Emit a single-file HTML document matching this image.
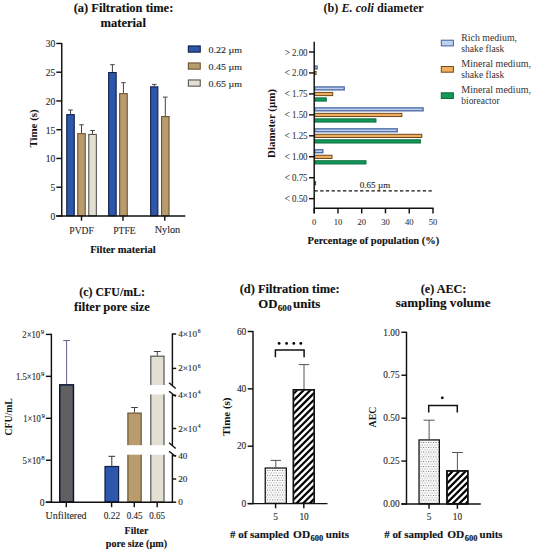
<!DOCTYPE html>
<html><head><meta charset="utf-8"><title>Figure</title>
<style>
html,body{margin:0;padding:0;background:#fff;}
svg{display:block;font-family:"Liberation Serif", serif;}
</style></head>
<body>
<svg width="535" height="550" viewBox="0 0 535 550">
<rect x="0" y="0" width="535" height="550" fill="#fff"/>
<defs>
<pattern id="dotsD" x="267.0" y="470.0" width="2.52" height="4.9" patternUnits="userSpaceOnUse"><rect x="0" y="0" width="1.0" height="1.0" fill="#6e6e6e"/><rect x="1.26" y="2.45" width="1.0" height="1.0" fill="#888"/></pattern>
<pattern id="dotsE" x="420.7" y="442.0" width="2.47" height="4.8" patternUnits="userSpaceOnUse"><rect x="0" y="0" width="1.0" height="1.0" fill="#6e6e6e"/><rect x="1.23" y="2.4" width="1.0" height="1.0" fill="#888"/></pattern>
<clipPath id="clipD"><rect x="294.1" y="390.2" width="19.7" height="113.6"/></clipPath>
<clipPath id="clipE"><rect x="447.3" y="471.3" width="20.0" height="32.5"/></clipPath>
</defs>
<text x="73.70" y="11.60" font-size="12" textLength="99.60" lengthAdjust="spacingAndGlyphs" fill="#111" stroke="#111" stroke-width="0.12" font-weight="bold">(a) Filtration time:</text>
<text x="100.40" y="27.40" font-size="12" textLength="45.50" lengthAdjust="spacingAndGlyphs" fill="#111" stroke="#111" stroke-width="0.12" font-weight="bold">material</text>
<text x="50.60" y="219.85" font-size="9.8" textLength="4.80" lengthAdjust="spacingAndGlyphs" fill="#2a2a2a" stroke="#2a2a2a" stroke-width="0.12">0</text>
<text x="50.60" y="191.10" font-size="9.8" textLength="4.80" lengthAdjust="spacingAndGlyphs" fill="#2a2a2a" stroke="#2a2a2a" stroke-width="0.12">5</text>
<text x="45.80" y="162.35" font-size="9.8" textLength="9.60" lengthAdjust="spacingAndGlyphs" fill="#2a2a2a" stroke="#2a2a2a" stroke-width="0.12">10</text>
<text x="45.80" y="133.60" font-size="9.8" textLength="9.60" lengthAdjust="spacingAndGlyphs" fill="#2a2a2a" stroke="#2a2a2a" stroke-width="0.12">15</text>
<text x="45.80" y="104.85" font-size="9.8" textLength="9.60" lengthAdjust="spacingAndGlyphs" fill="#2a2a2a" stroke="#2a2a2a" stroke-width="0.12">20</text>
<text x="45.80" y="76.10" font-size="9.8" textLength="9.60" lengthAdjust="spacingAndGlyphs" fill="#2a2a2a" stroke="#2a2a2a" stroke-width="0.12">25</text>
<text x="45.80" y="47.35" font-size="9.8" textLength="9.60" lengthAdjust="spacingAndGlyphs" fill="#2a2a2a" stroke="#2a2a2a" stroke-width="0.12">30</text>
<text x="69.30" y="234.00" font-size="9.6" textLength="24.50" lengthAdjust="spacingAndGlyphs" fill="#2a2a2a" stroke="#2a2a2a" stroke-width="0.12">PVDF</text>
<text x="113.30" y="233.80" font-size="9.6" textLength="22.20" lengthAdjust="spacingAndGlyphs" fill="#2a2a2a" stroke="#2a2a2a" stroke-width="0.12">PTFE</text>
<text x="154.70" y="232.90" font-size="9.6" textLength="25.50" lengthAdjust="spacingAndGlyphs" fill="#2a2a2a" stroke="#2a2a2a" stroke-width="0.12">Nylon</text>
<text x="90.20" y="252.60" font-size="11" textLength="65.50" lengthAdjust="spacingAndGlyphs" fill="#111" stroke="#111" stroke-width="0.12" font-weight="bold">Filter material</text>
<text x="37.40" y="147.60" font-size="11.4" font-weight="bold" fill="#111" textLength="38.30" lengthAdjust="spacingAndGlyphs" transform="rotate(-90 37.40 147.60)" dy="0">Time (s)</text>
<line x1="70.50" y1="114.10" x2="70.50" y2="110.00" stroke="#444" stroke-width="1.0"/>
<line x1="68.20" y1="110.00" x2="72.80" y2="110.00" stroke="#444" stroke-width="1.0"/>
<rect x="66.75" y="114.65" width="7.50" height="101.10" fill="#2c57aa" stroke="#101e48" stroke-width="1.1"/>
<line x1="81.50" y1="133.10" x2="81.50" y2="124.80" stroke="#444" stroke-width="1.0"/>
<line x1="79.20" y1="124.80" x2="83.80" y2="124.80" stroke="#444" stroke-width="1.0"/>
<rect x="77.75" y="133.65" width="7.50" height="82.10" fill="#b99c6d" stroke="#6c5431" stroke-width="1.1"/>
<line x1="92.55" y1="133.90" x2="92.55" y2="130.50" stroke="#444" stroke-width="1.0"/>
<line x1="90.25" y1="130.50" x2="94.85" y2="130.50" stroke="#444" stroke-width="1.0"/>
<rect x="88.75" y="134.45" width="7.60" height="81.30" fill="#e3dfd3" stroke="#555555" stroke-width="1.1"/>
<line x1="112.40" y1="72.00" x2="112.40" y2="64.70" stroke="#444" stroke-width="1.0"/>
<line x1="110.10" y1="64.70" x2="114.70" y2="64.70" stroke="#444" stroke-width="1.0"/>
<rect x="108.65" y="72.55" width="7.50" height="143.20" fill="#2c57aa" stroke="#101e48" stroke-width="1.1"/>
<line x1="123.45" y1="93.10" x2="123.45" y2="82.70" stroke="#444" stroke-width="1.0"/>
<line x1="121.15" y1="82.70" x2="125.75" y2="82.70" stroke="#444" stroke-width="1.0"/>
<rect x="119.65" y="93.65" width="7.60" height="122.10" fill="#b99c6d" stroke="#6c5431" stroke-width="1.1"/>
<line x1="154.25" y1="86.30" x2="154.25" y2="84.40" stroke="#444" stroke-width="1.0"/>
<line x1="151.95" y1="84.40" x2="156.55" y2="84.40" stroke="#444" stroke-width="1.0"/>
<rect x="150.65" y="86.85" width="7.20" height="128.90" fill="#2c57aa" stroke="#101e48" stroke-width="1.1"/>
<line x1="165.30" y1="116.00" x2="165.30" y2="97.10" stroke="#444" stroke-width="1.0"/>
<line x1="163.00" y1="97.10" x2="167.60" y2="97.10" stroke="#444" stroke-width="1.0"/>
<rect x="161.55" y="116.55" width="7.50" height="99.20" fill="#b99c6d" stroke="#6c5431" stroke-width="1.1"/>
<rect x="188.35" y="45.95" width="11.90" height="6.20" fill="#2c57aa" stroke="#101e48" stroke-width="1.1"/>
<text x="208.60" y="52.50" font-size="9.2" textLength="33.50" lengthAdjust="spacingAndGlyphs" fill="#2a2a2a" stroke="#2a2a2a" stroke-width="0.12">0.22 µm</text>
<rect x="188.35" y="62.95" width="11.90" height="6.20" fill="#b99c6d" stroke="#6c5431" stroke-width="1.1"/>
<text x="208.60" y="69.50" font-size="9.2" textLength="33.50" lengthAdjust="spacingAndGlyphs" fill="#2a2a2a" stroke="#2a2a2a" stroke-width="0.12">0.45 µm</text>
<rect x="188.35" y="79.95" width="11.90" height="6.20" fill="#e3dfd3" stroke="#555555" stroke-width="1.1"/>
<text x="208.60" y="86.50" font-size="9.2" textLength="33.50" lengthAdjust="spacingAndGlyphs" fill="#2a2a2a" stroke="#2a2a2a" stroke-width="0.12">0.65 µm</text>
<text x="323.5" y="11.7" font-size="12" font-weight="bold" fill="#151515" textLength="100.3" lengthAdjust="spacingAndGlyphs">(b) <tspan font-style="italic">E. coli</tspan> diameter</text>
<text x="284.70" y="55.50" font-size="10" textLength="22.90" lengthAdjust="spacingAndGlyphs" fill="#333" stroke="#333" stroke-width="0.08">&gt; 2.00</text>
<text x="284.70" y="76.45" font-size="10" textLength="22.90" lengthAdjust="spacingAndGlyphs" fill="#333" stroke="#333" stroke-width="0.08">&lt; 2.00</text>
<text x="284.70" y="97.40" font-size="10" textLength="22.90" lengthAdjust="spacingAndGlyphs" fill="#333" stroke="#333" stroke-width="0.08">&lt; 1.75</text>
<text x="284.70" y="118.35" font-size="10" textLength="22.90" lengthAdjust="spacingAndGlyphs" fill="#333" stroke="#333" stroke-width="0.08">&lt; 1.50</text>
<text x="284.70" y="139.30" font-size="10" textLength="22.90" lengthAdjust="spacingAndGlyphs" fill="#333" stroke="#333" stroke-width="0.08">&lt; 1.25</text>
<text x="284.70" y="160.25" font-size="10" textLength="22.90" lengthAdjust="spacingAndGlyphs" fill="#333" stroke="#333" stroke-width="0.08">&lt; 1.00</text>
<text x="284.70" y="181.20" font-size="10" textLength="22.90" lengthAdjust="spacingAndGlyphs" fill="#333" stroke="#333" stroke-width="0.08">&lt; 0.75</text>
<text x="284.70" y="202.15" font-size="10" textLength="22.90" lengthAdjust="spacingAndGlyphs" fill="#333" stroke="#333" stroke-width="0.08">&lt; 0.50</text>
<text x="312.05" y="224.90" font-size="9" textLength="4.30" lengthAdjust="spacingAndGlyphs" fill="#333" stroke="#333" stroke-width="0.08">0</text>
<text x="333.66" y="224.90" font-size="9" textLength="8.60" lengthAdjust="spacingAndGlyphs" fill="#333" stroke="#333" stroke-width="0.08">10</text>
<text x="357.42" y="224.90" font-size="9" textLength="8.60" lengthAdjust="spacingAndGlyphs" fill="#333" stroke="#333" stroke-width="0.08">20</text>
<text x="381.18" y="224.90" font-size="9" textLength="8.60" lengthAdjust="spacingAndGlyphs" fill="#333" stroke="#333" stroke-width="0.08">30</text>
<text x="404.94" y="224.90" font-size="9" textLength="8.60" lengthAdjust="spacingAndGlyphs" fill="#333" stroke="#333" stroke-width="0.08">40</text>
<text x="428.70" y="224.90" font-size="9" textLength="8.60" lengthAdjust="spacingAndGlyphs" fill="#333" stroke="#333" stroke-width="0.08">50</text>
<line x1="314.5" y1="190.8" x2="432.5" y2="190.8" stroke="#111" stroke-width="1.3" stroke-dasharray="3.3 2.4"/>
<text x="359.80" y="188.10" font-size="8.2" textLength="30.40" lengthAdjust="spacingAndGlyphs" fill="#2a2a2a" stroke="#2a2a2a" stroke-width="0.12">0.65 µm</text>
<text x="307.60" y="244.30" font-size="10.4" textLength="131.70" lengthAdjust="spacingAndGlyphs" fill="#111" stroke="#111" stroke-width="0.12" font-weight="bold">Percentage of population (%)</text>
<text x="275.30" y="158.00" font-size="10.8" font-weight="bold" fill="#111" textLength="69.00" lengthAdjust="spacingAndGlyphs" transform="rotate(-90 275.30 158.00)" dy="0">Diameter (µm)</text>
<rect x="314.82" y="65.98" width="2.31" height="2.95" fill="#bcd0f0" stroke="#42629f" stroke-width="1.25"/>
<rect x="314.70" y="71.45" width="1.38" height="3.20" fill="#f3ad5e" stroke="#6b4a1f" stroke-width="1.0"/>
<rect x="314.70" y="76.95" width="-0.29" height="3.20" fill="#11985a" stroke="#0b6b3c" stroke-width="1.0"/>
<rect x="314.82" y="86.93" width="29.40" height="2.95" fill="#bcd0f0" stroke="#42629f" stroke-width="1.25"/>
<rect x="314.70" y="92.40" width="18.01" height="3.20" fill="#f3ad5e" stroke="#6b4a1f" stroke-width="1.0"/>
<rect x="314.70" y="97.90" width="11.59" height="3.20" fill="#11985a" stroke="#0b6b3c" stroke-width="1.0"/>
<rect x="314.82" y="107.88" width="108.28" height="2.95" fill="#bcd0f0" stroke="#42629f" stroke-width="1.25"/>
<rect x="314.70" y="113.35" width="87.15" height="3.20" fill="#f3ad5e" stroke="#6b4a1f" stroke-width="1.0"/>
<rect x="314.70" y="118.85" width="61.25" height="3.20" fill="#11985a" stroke="#0b6b3c" stroke-width="1.0"/>
<rect x="314.82" y="128.83" width="82.39" height="2.95" fill="#bcd0f0" stroke="#42629f" stroke-width="1.25"/>
<rect x="314.70" y="134.30" width="107.11" height="3.20" fill="#f3ad5e" stroke="#6b4a1f" stroke-width="1.0"/>
<rect x="314.70" y="139.80" width="105.68" height="3.20" fill="#11985a" stroke="#0b6b3c" stroke-width="1.0"/>
<rect x="314.82" y="149.78" width="8.02" height="2.95" fill="#bcd0f0" stroke="#42629f" stroke-width="1.25"/>
<rect x="314.70" y="155.25" width="17.30" height="3.20" fill="#f3ad5e" stroke="#6b4a1f" stroke-width="1.0"/>
<rect x="314.70" y="160.75" width="51.27" height="3.20" fill="#11985a" stroke="#0b6b3c" stroke-width="1.0"/>
<rect x="314.70" y="181.70" width="0.90" height="3.20" fill="#11985a" stroke="#0b6b3c" stroke-width="1.0"/>
<rect x="441.30" y="40.20" width="12.10" height="5.70" fill="#bcd0f0" stroke="#42629f" stroke-width="1.0"/>
<text x="461.30" y="41.20" font-size="9.3" textLength="55.70" lengthAdjust="spacingAndGlyphs" fill="#333" stroke="#333" stroke-width="0.0">Rich medium,</text>
<text x="461.30" y="51.70" font-size="9.3" textLength="43.00" lengthAdjust="spacingAndGlyphs" fill="#333" stroke="#333" stroke-width="0.0">shake flask</text>
<rect x="441.30" y="66.50" width="12.10" height="5.70" fill="#f3ad5e" stroke="#6b4a1f" stroke-width="1.0"/>
<text x="461.30" y="66.90" font-size="9.3" textLength="69.70" lengthAdjust="spacingAndGlyphs" fill="#333" stroke="#333" stroke-width="0.0">Mineral medium,</text>
<text x="461.30" y="77.80" font-size="9.3" textLength="43.00" lengthAdjust="spacingAndGlyphs" fill="#333" stroke="#333" stroke-width="0.0">shake flask</text>
<rect x="441.30" y="92.80" width="12.10" height="5.70" fill="#11985a" stroke="#0b6b3c" stroke-width="1.0"/>
<text x="461.30" y="92.60" font-size="9.3" textLength="69.70" lengthAdjust="spacingAndGlyphs" fill="#333" stroke="#333" stroke-width="0.0">Mineral medium,</text>
<text x="461.30" y="103.90" font-size="9.3" textLength="38.30" lengthAdjust="spacingAndGlyphs" fill="#333" stroke="#333" stroke-width="0.0">bioreactor</text>
<text x="79.30" y="295.90" font-size="12" textLength="65.70" lengthAdjust="spacingAndGlyphs" fill="#111" stroke="#111" stroke-width="0.12" font-weight="bold">(c) CFU/mL:</text>
<text x="74.10" y="311.30" font-size="12" textLength="75.80" lengthAdjust="spacingAndGlyphs" fill="#111" stroke="#111" stroke-width="0.12" font-weight="bold">filter pore size</text>
<text x="39.80" y="505.50" font-size="9.5" textLength="4.80" lengthAdjust="spacingAndGlyphs" fill="#2a2a2a" stroke="#2a2a2a" stroke-width="0.12">0</text>
<text x="22.50" y="463.55" font-size="9.5" textLength="18.20" lengthAdjust="spacingAndGlyphs" fill="#2a2a2a" stroke="#2a2a2a" stroke-width="0.12">5×10</text>
<text x="41.30" y="459.65" font-size="5.8" textLength="3.40" lengthAdjust="spacingAndGlyphs" fill="#2a2a2a" stroke="#2a2a2a" stroke-width="0.12">8</text>
<text x="23.20" y="421.60" font-size="9.5" textLength="17.70" lengthAdjust="spacingAndGlyphs" fill="#2a2a2a" stroke="#2a2a2a" stroke-width="0.12">1×10</text>
<text x="41.50" y="417.70" font-size="5.8" textLength="3.40" lengthAdjust="spacingAndGlyphs" fill="#2a2a2a" stroke="#2a2a2a" stroke-width="0.12">9</text>
<text x="15.90" y="379.65" font-size="9.5" textLength="24.60" lengthAdjust="spacingAndGlyphs" fill="#2a2a2a" stroke="#2a2a2a" stroke-width="0.12">1.5×10</text>
<text x="41.10" y="375.75" font-size="5.8" textLength="3.40" lengthAdjust="spacingAndGlyphs" fill="#2a2a2a" stroke="#2a2a2a" stroke-width="0.12">9</text>
<text x="22.30" y="337.70" font-size="9.5" textLength="17.90" lengthAdjust="spacingAndGlyphs" fill="#2a2a2a" stroke="#2a2a2a" stroke-width="0.12">2×10</text>
<text x="40.80" y="333.80" font-size="5.8" textLength="3.40" lengthAdjust="spacingAndGlyphs" fill="#2a2a2a" stroke="#2a2a2a" stroke-width="0.12">9</text>
<text x="178.20" y="337.00" font-size="8.6" textLength="18.80" lengthAdjust="spacingAndGlyphs" fill="#2a2a2a" stroke="#2a2a2a" stroke-width="0.12">4×10</text>
<text x="197.80" y="333.10" font-size="5.6" textLength="2.80" lengthAdjust="spacingAndGlyphs" fill="#2a2a2a" stroke="#2a2a2a" stroke-width="0.12">6</text>
<text x="178.20" y="371.40" font-size="8.6" textLength="18.80" lengthAdjust="spacingAndGlyphs" fill="#2a2a2a" stroke="#2a2a2a" stroke-width="0.12">2×10</text>
<text x="197.80" y="367.50" font-size="5.6" textLength="2.80" lengthAdjust="spacingAndGlyphs" fill="#2a2a2a" stroke="#2a2a2a" stroke-width="0.12">6</text>
<text x="178.20" y="398.30" font-size="8.6" textLength="18.80" lengthAdjust="spacingAndGlyphs" fill="#2a2a2a" stroke="#2a2a2a" stroke-width="0.12">4×10</text>
<text x="197.80" y="394.40" font-size="5.6" textLength="2.80" lengthAdjust="spacingAndGlyphs" fill="#2a2a2a" stroke="#2a2a2a" stroke-width="0.12">4</text>
<text x="178.20" y="431.50" font-size="8.6" textLength="18.80" lengthAdjust="spacingAndGlyphs" fill="#2a2a2a" stroke="#2a2a2a" stroke-width="0.12">2×10</text>
<text x="197.80" y="427.60" font-size="5.6" textLength="2.80" lengthAdjust="spacingAndGlyphs" fill="#2a2a2a" stroke="#2a2a2a" stroke-width="0.12">4</text>
<text x="178.20" y="458.70" font-size="9" textLength="9.20" lengthAdjust="spacingAndGlyphs" fill="#2a2a2a" stroke="#2a2a2a" stroke-width="0.12">40</text>
<text x="178.20" y="482.00" font-size="9" textLength="9.20" lengthAdjust="spacingAndGlyphs" fill="#2a2a2a" stroke="#2a2a2a" stroke-width="0.12">20</text>
<text x="178.20" y="505.20" font-size="9" textLength="4.60" lengthAdjust="spacingAndGlyphs" fill="#2a2a2a" stroke="#2a2a2a" stroke-width="0.12">0</text>
<line x1="66.60" y1="384.50" x2="66.60" y2="340.50" stroke="#5d6290" stroke-width="1.0"/>
<line x1="63.25" y1="340.50" x2="69.95" y2="340.50" stroke="#5d6290" stroke-width="1.0"/>
<rect x="59.75" y="384.85" width="13.70" height="117.00" fill="#606060" stroke="#0c1838" stroke-width="1.5"/>
<line x1="111.80" y1="465.90" x2="111.80" y2="456.30" stroke="#333" stroke-width="1.0"/>
<line x1="108.45" y1="456.30" x2="115.15" y2="456.30" stroke="#333" stroke-width="1.0"/>
<rect x="105.00" y="466.50" width="13.60" height="35.50" fill="#2c57aa" stroke="#101e48" stroke-width="1.2"/>
<line x1="134.50" y1="412.50" x2="134.50" y2="407.50" stroke="#444" stroke-width="1.0"/>
<line x1="131.15" y1="407.50" x2="137.85" y2="407.50" stroke="#444" stroke-width="1.0"/>
<rect x="127.90" y="413.10" width="13.30" height="88.90" fill="#b99c6d" stroke="#6c5431" stroke-width="1.2"/>
<line x1="157.30" y1="355.60" x2="157.30" y2="351.50" stroke="#444" stroke-width="1.0"/>
<line x1="153.95" y1="351.50" x2="160.65" y2="351.50" stroke="#444" stroke-width="1.0"/>
<rect x="150.80" y="356.20" width="13.20" height="145.80" fill="#e3dfd3" stroke="#555555" stroke-width="1.2"/>
<rect x="125.00" y="445.20" width="20.00" height="9.50" fill="#fff"/>
<rect x="148.00" y="445.20" width="20.00" height="9.50" fill="#fff"/>
<rect x="148.00" y="385.00" width="20.00" height="9.40" fill="#fff"/>
<text x="45.60" y="518.90" font-size="9.5" textLength="41.00" lengthAdjust="spacingAndGlyphs" fill="#2a2a2a" stroke="#2a2a2a" stroke-width="0.12">Unfiltered</text>
<text x="103.70" y="518.80" font-size="9.5" textLength="16.40" lengthAdjust="spacingAndGlyphs" fill="#2a2a2a" stroke="#2a2a2a" stroke-width="0.12">0.22</text>
<text x="126.70" y="518.80" font-size="9.5" textLength="15.90" lengthAdjust="spacingAndGlyphs" fill="#2a2a2a" stroke="#2a2a2a" stroke-width="0.12">0.45</text>
<text x="149.20" y="518.80" font-size="9.5" textLength="15.80" lengthAdjust="spacingAndGlyphs" fill="#2a2a2a" stroke="#2a2a2a" stroke-width="0.12">0.65</text>
<text x="124.60" y="534.20" font-size="11" textLength="23.70" lengthAdjust="spacingAndGlyphs" fill="#111" stroke="#111" stroke-width="0.12" font-weight="bold">Filter</text>
<text x="105.80" y="546.60" font-size="11" textLength="61.30" lengthAdjust="spacingAndGlyphs" fill="#111" stroke="#111" stroke-width="0.12" font-weight="bold">pore size (µm)</text>
<text x="11.80" y="435.50" font-size="10.6" font-weight="bold" fill="#111" textLength="37.30" lengthAdjust="spacingAndGlyphs" transform="rotate(-90 11.80 435.50)" dy="0">CFU/mL</text>
<text x="239.70" y="292.90" font-size="12" textLength="100.00" lengthAdjust="spacingAndGlyphs" fill="#111" stroke="#111" stroke-width="0.12" font-weight="bold">(d) Filtration time:</text>
<text x="258.30" y="308.20" font-size="12" textLength="19.20" lengthAdjust="spacingAndGlyphs" fill="#111" stroke="#111" stroke-width="0.12" font-weight="bold">OD</text>
<text x="277.80" y="310.90" font-size="8" textLength="13.70" lengthAdjust="spacingAndGlyphs" fill="#111" stroke="#111" stroke-width="0.12" font-weight="bold">600</text>
<text x="293.00" y="308.20" font-size="12" textLength="27.40" lengthAdjust="spacingAndGlyphs" fill="#111" stroke="#111" stroke-width="0.12" font-weight="bold">units</text>
<text x="241.60" y="506.80" font-size="9.5" textLength="4.70" lengthAdjust="spacingAndGlyphs" fill="#2a2a2a" stroke="#2a2a2a" stroke-width="0.12">0</text>
<text x="236.90" y="449.43" font-size="9.5" textLength="9.40" lengthAdjust="spacingAndGlyphs" fill="#2a2a2a" stroke="#2a2a2a" stroke-width="0.12">20</text>
<text x="236.90" y="392.06" font-size="9.5" textLength="9.40" lengthAdjust="spacingAndGlyphs" fill="#2a2a2a" stroke="#2a2a2a" stroke-width="0.12">40</text>
<text x="236.90" y="334.69" font-size="9.5" textLength="9.40" lengthAdjust="spacingAndGlyphs" fill="#2a2a2a" stroke="#2a2a2a" stroke-width="0.12">60</text>
<line x1="275.80" y1="467.40" x2="275.80" y2="460.40" stroke="#555" stroke-width="1.0"/>
<line x1="270.60" y1="460.40" x2="281.00" y2="460.40" stroke="#555" stroke-width="1.0"/>
<rect x="265.25" y="468.05" width="21.10" height="35.30" fill="#fff" stroke="#111" stroke-width="1.3"/>
<rect x="265.60" y="468.40" width="20.40" height="34.80" fill="url(#dotsD)"/>
<line x1="304.00" y1="389.10" x2="304.00" y2="364.60" stroke="#555" stroke-width="1.0"/>
<line x1="298.65" y1="364.60" x2="309.35" y2="364.60" stroke="#555" stroke-width="1.0"/>
<rect x="293.45" y="389.75" width="20.80" height="113.60" fill="#fff" stroke="#111" stroke-width="1.3"/>
<rect x="293.45" y="389.75" width="20.80" height="113.60" fill="#fff" stroke="#111" stroke-width="1.3"/>
<g clip-path="url(#clipD)" stroke="#000" stroke-width="2.2">
<line x1="288.80" y1="372.02" x2="320.00" y2="340.82" stroke="#000" stroke-width="2.2"/>
<line x1="288.80" y1="378.64" x2="320.00" y2="347.44" stroke="#000" stroke-width="2.2"/>
<line x1="288.80" y1="385.26" x2="320.00" y2="354.06" stroke="#000" stroke-width="2.2"/>
<line x1="288.80" y1="391.88" x2="320.00" y2="360.68" stroke="#000" stroke-width="2.2"/>
<line x1="288.80" y1="398.50" x2="320.00" y2="367.30" stroke="#000" stroke-width="2.2"/>
<line x1="288.80" y1="405.12" x2="320.00" y2="373.92" stroke="#000" stroke-width="2.2"/>
<line x1="288.80" y1="411.74" x2="320.00" y2="380.54" stroke="#000" stroke-width="2.2"/>
<line x1="288.80" y1="418.36" x2="320.00" y2="387.16" stroke="#000" stroke-width="2.2"/>
<line x1="288.80" y1="424.98" x2="320.00" y2="393.78" stroke="#000" stroke-width="2.2"/>
<line x1="288.80" y1="431.60" x2="320.00" y2="400.40" stroke="#000" stroke-width="2.2"/>
<line x1="288.80" y1="438.22" x2="320.00" y2="407.02" stroke="#000" stroke-width="2.2"/>
<line x1="288.80" y1="444.84" x2="320.00" y2="413.64" stroke="#000" stroke-width="2.2"/>
<line x1="288.80" y1="451.46" x2="320.00" y2="420.26" stroke="#000" stroke-width="2.2"/>
<line x1="288.80" y1="458.08" x2="320.00" y2="426.88" stroke="#000" stroke-width="2.2"/>
<line x1="288.80" y1="464.70" x2="320.00" y2="433.50" stroke="#000" stroke-width="2.2"/>
<line x1="288.80" y1="471.32" x2="320.00" y2="440.12" stroke="#000" stroke-width="2.2"/>
<line x1="288.80" y1="477.94" x2="320.00" y2="446.74" stroke="#000" stroke-width="2.2"/>
<line x1="288.80" y1="484.56" x2="320.00" y2="453.36" stroke="#000" stroke-width="2.2"/>
<line x1="288.80" y1="491.18" x2="320.00" y2="459.98" stroke="#000" stroke-width="2.2"/>
<line x1="288.80" y1="497.80" x2="320.00" y2="466.60" stroke="#000" stroke-width="2.2"/>
<line x1="288.80" y1="504.42" x2="320.00" y2="473.22" stroke="#000" stroke-width="2.2"/>
<line x1="288.80" y1="511.04" x2="320.00" y2="479.84" stroke="#000" stroke-width="2.2"/>
<line x1="288.80" y1="517.66" x2="320.00" y2="486.46" stroke="#000" stroke-width="2.2"/>
<line x1="288.80" y1="524.28" x2="320.00" y2="493.08" stroke="#000" stroke-width="2.2"/>
</g>
<rect x="293.45" y="389.75" width="20.80" height="113.60" fill="none" stroke="#111" stroke-width="1.3"/>
<polyline points="275.4,357.2 275.4,349.9 304.1,349.9 304.1,357.2" fill="none" stroke="#111" stroke-width="1.5"/>
<circle cx="279.1" cy="343.4" r="1.4" fill="#000"/>
<circle cx="286.6" cy="343.4" r="1.4" fill="#000"/>
<circle cx="293.8" cy="343.4" r="1.4" fill="#000"/>
<circle cx="300.8" cy="343.4" r="1.4" fill="#000"/>
<text x="273.30" y="520.00" font-size="9.5" textLength="4.70" lengthAdjust="spacingAndGlyphs" fill="#2a2a2a" stroke="#2a2a2a" stroke-width="0.12">5</text>
<text x="299.40" y="520.00" font-size="9.5" textLength="9.20" lengthAdjust="spacingAndGlyphs" fill="#2a2a2a" stroke="#2a2a2a" stroke-width="0.12">10</text>
<text x="230.30" y="436.00" font-size="11.4" font-weight="bold" fill="#111" textLength="38.50" lengthAdjust="spacingAndGlyphs" transform="rotate(-90 230.30 436.00)" dy="0">Time (s)</text>
<text x="230.00" y="538.10" font-size="11" textLength="59.00" lengthAdjust="spacingAndGlyphs" fill="#111" stroke="#111" stroke-width="0.12" font-weight="bold"># of sampled</text>
<text x="293.10" y="538.10" font-size="11" textLength="17.00" lengthAdjust="spacingAndGlyphs" fill="#111" stroke="#111" stroke-width="0.12" font-weight="bold">OD</text>
<text x="310.50" y="540.60" font-size="7.5" textLength="12.70" lengthAdjust="spacingAndGlyphs" fill="#111" stroke="#111" stroke-width="0.12" font-weight="bold">600</text>
<text x="325.80" y="538.10" font-size="11" textLength="23.30" lengthAdjust="spacingAndGlyphs" fill="#111" stroke="#111" stroke-width="0.12" font-weight="bold">units</text>
<text x="420.80" y="292.70" font-size="12" textLength="45.60" lengthAdjust="spacingAndGlyphs" fill="#111" stroke="#111" stroke-width="0.12" font-weight="bold">(e) AEC:</text>
<text x="395.70" y="306.60" font-size="12" textLength="94.90" lengthAdjust="spacingAndGlyphs" fill="#111" stroke="#111" stroke-width="0.12" font-weight="bold">sampling volume</text>
<text x="383.30" y="507.20" font-size="9.5" textLength="16.30" lengthAdjust="spacingAndGlyphs" fill="#2a2a2a" stroke="#2a2a2a" stroke-width="0.12">0.00</text>
<text x="383.30" y="464.27" font-size="9.5" textLength="16.30" lengthAdjust="spacingAndGlyphs" fill="#2a2a2a" stroke="#2a2a2a" stroke-width="0.12">0.25</text>
<text x="383.30" y="421.35" font-size="9.5" textLength="16.30" lengthAdjust="spacingAndGlyphs" fill="#2a2a2a" stroke="#2a2a2a" stroke-width="0.12">0.50</text>
<text x="383.30" y="378.43" font-size="9.5" textLength="16.30" lengthAdjust="spacingAndGlyphs" fill="#2a2a2a" stroke="#2a2a2a" stroke-width="0.12">0.75</text>
<text x="383.30" y="335.50" font-size="9.5" textLength="16.30" lengthAdjust="spacingAndGlyphs" fill="#2a2a2a" stroke="#2a2a2a" stroke-width="0.12">1.00</text>
<line x1="429.10" y1="439.30" x2="429.10" y2="420.20" stroke="#555" stroke-width="1.0"/>
<line x1="423.55" y1="420.20" x2="434.65" y2="420.20" stroke="#555" stroke-width="1.0"/>
<rect x="419.05" y="439.95" width="20.30" height="63.80" fill="#fff" stroke="#111" stroke-width="1.3"/>
<rect x="419.40" y="440.30" width="19.60" height="63.30" fill="url(#dotsE)"/>
<line x1="457.40" y1="470.30" x2="457.40" y2="452.50" stroke="#555" stroke-width="1.0"/>
<line x1="452.00" y1="452.50" x2="462.80" y2="452.50" stroke="#555" stroke-width="1.0"/>
<rect x="447.05" y="470.95" width="20.70" height="32.80" fill="#fff" stroke="#111" stroke-width="1.3"/>
<rect x="447.05" y="470.95" width="20.70" height="32.80" fill="#fff" stroke="#111" stroke-width="1.3"/>
<g clip-path="url(#clipE)" stroke="#000" stroke-width="2.2">
<line x1="442.30" y1="455.60" x2="473.50" y2="424.40" stroke="#000" stroke-width="2.2"/>
<line x1="442.30" y1="462.10" x2="473.50" y2="430.90" stroke="#000" stroke-width="2.2"/>
<line x1="442.30" y1="468.60" x2="473.50" y2="437.40" stroke="#000" stroke-width="2.2"/>
<line x1="442.30" y1="475.10" x2="473.50" y2="443.90" stroke="#000" stroke-width="2.2"/>
<line x1="442.30" y1="481.60" x2="473.50" y2="450.40" stroke="#000" stroke-width="2.2"/>
<line x1="442.30" y1="488.10" x2="473.50" y2="456.90" stroke="#000" stroke-width="2.2"/>
<line x1="442.30" y1="494.60" x2="473.50" y2="463.40" stroke="#000" stroke-width="2.2"/>
<line x1="442.30" y1="501.10" x2="473.50" y2="469.90" stroke="#000" stroke-width="2.2"/>
<line x1="442.30" y1="507.60" x2="473.50" y2="476.40" stroke="#000" stroke-width="2.2"/>
<line x1="442.30" y1="514.10" x2="473.50" y2="482.90" stroke="#000" stroke-width="2.2"/>
<line x1="442.30" y1="520.60" x2="473.50" y2="489.40" stroke="#000" stroke-width="2.2"/>
<line x1="442.30" y1="527.10" x2="473.50" y2="495.90" stroke="#000" stroke-width="2.2"/>
</g>
<rect x="447.05" y="470.95" width="20.70" height="32.80" fill="none" stroke="#111" stroke-width="1.3"/>
<polyline points="428.7,412.6 428.7,405.4 457.3,405.4 457.3,412.6" fill="none" stroke="#111" stroke-width="1.5"/>
<circle cx="442.3" cy="397.8" r="1.4" fill="#000"/>
<text x="426.70" y="520.40" font-size="9.5" textLength="4.70" lengthAdjust="spacingAndGlyphs" fill="#2a2a2a" stroke="#2a2a2a" stroke-width="0.12">5</text>
<text x="452.80" y="520.40" font-size="9.5" textLength="9.20" lengthAdjust="spacingAndGlyphs" fill="#2a2a2a" stroke="#2a2a2a" stroke-width="0.12">10</text>
<text x="375.60" y="427.40" font-size="11" font-weight="bold" fill="#111" textLength="20.70" lengthAdjust="spacingAndGlyphs" transform="rotate(-90 375.60 427.40)" dy="0">AEC</text>
<text x="384.20" y="538.20" font-size="11" textLength="59.00" lengthAdjust="spacingAndGlyphs" fill="#111" stroke="#111" stroke-width="0.12" font-weight="bold"># of sampled</text>
<text x="447.30" y="538.20" font-size="11" textLength="17.00" lengthAdjust="spacingAndGlyphs" fill="#111" stroke="#111" stroke-width="0.12" font-weight="bold">OD</text>
<text x="464.70" y="540.70" font-size="7.5" textLength="12.70" lengthAdjust="spacingAndGlyphs" fill="#111" stroke="#111" stroke-width="0.12" font-weight="bold">600</text>
<text x="479.60" y="538.20" font-size="11" textLength="23.00" lengthAdjust="spacingAndGlyphs" fill="#111" stroke="#111" stroke-width="0.12" font-weight="bold">units</text>
<line x1="61.75" y1="43.00" x2="61.75" y2="216.65" stroke="#111" stroke-width="1.45"/>
<line x1="56.30" y1="215.95" x2="61.75" y2="215.95" stroke="#111" stroke-width="1.45"/>
<line x1="56.30" y1="187.20" x2="61.75" y2="187.20" stroke="#111" stroke-width="1.45"/>
<line x1="56.30" y1="158.45" x2="61.75" y2="158.45" stroke="#111" stroke-width="1.45"/>
<line x1="56.30" y1="129.70" x2="61.75" y2="129.70" stroke="#111" stroke-width="1.45"/>
<line x1="56.30" y1="100.95" x2="61.75" y2="100.95" stroke="#111" stroke-width="1.45"/>
<line x1="56.30" y1="72.20" x2="61.75" y2="72.20" stroke="#111" stroke-width="1.45"/>
<line x1="56.30" y1="43.45" x2="61.75" y2="43.45" stroke="#111" stroke-width="1.45"/>
<line x1="56.30" y1="215.95" x2="185.30" y2="215.95" stroke="#111" stroke-width="1.45"/>
<line x1="81.50" y1="215.95" x2="81.50" y2="220.70" stroke="#111" stroke-width="1.45"/>
<line x1="123.00" y1="215.95" x2="123.00" y2="220.70" stroke="#111" stroke-width="1.45"/>
<line x1="164.80" y1="215.95" x2="164.80" y2="220.70" stroke="#111" stroke-width="1.45"/>
<line x1="314.20" y1="41.80" x2="314.20" y2="213.30" stroke="#111" stroke-width="1.45"/>
<line x1="309.00" y1="52.00" x2="314.20" y2="52.00" stroke="#111" stroke-width="1.45"/>
<line x1="309.00" y1="72.95" x2="314.20" y2="72.95" stroke="#111" stroke-width="1.45"/>
<line x1="309.00" y1="93.90" x2="314.20" y2="93.90" stroke="#111" stroke-width="1.45"/>
<line x1="309.00" y1="114.85" x2="314.20" y2="114.85" stroke="#111" stroke-width="1.45"/>
<line x1="309.00" y1="135.80" x2="314.20" y2="135.80" stroke="#111" stroke-width="1.45"/>
<line x1="309.00" y1="156.75" x2="314.20" y2="156.75" stroke="#111" stroke-width="1.45"/>
<line x1="309.00" y1="177.70" x2="314.20" y2="177.70" stroke="#111" stroke-width="1.45"/>
<line x1="309.00" y1="198.65" x2="314.20" y2="198.65" stroke="#111" stroke-width="1.45"/>
<line x1="314.20" y1="208.20" x2="433.60" y2="208.20" stroke="#111" stroke-width="1.45"/>
<line x1="314.20" y1="208.20" x2="314.20" y2="213.40" stroke="#111" stroke-width="1.45"/>
<line x1="337.96" y1="208.20" x2="337.96" y2="213.40" stroke="#111" stroke-width="1.45"/>
<line x1="361.72" y1="208.20" x2="361.72" y2="213.40" stroke="#111" stroke-width="1.45"/>
<line x1="385.48" y1="208.20" x2="385.48" y2="213.40" stroke="#111" stroke-width="1.45"/>
<line x1="409.24" y1="208.20" x2="409.24" y2="213.40" stroke="#111" stroke-width="1.45"/>
<line x1="433.00" y1="208.20" x2="433.00" y2="213.40" stroke="#111" stroke-width="1.45"/>
<line x1="51.40" y1="333.80" x2="51.40" y2="502.90" stroke="#111" stroke-width="1.45"/>
<line x1="45.90" y1="502.20" x2="51.40" y2="502.20" stroke="#111" stroke-width="1.45"/>
<line x1="45.90" y1="460.25" x2="51.40" y2="460.25" stroke="#111" stroke-width="1.45"/>
<line x1="45.90" y1="418.30" x2="51.40" y2="418.30" stroke="#111" stroke-width="1.45"/>
<line x1="45.90" y1="376.35" x2="51.40" y2="376.35" stroke="#111" stroke-width="1.45"/>
<line x1="45.90" y1="334.40" x2="51.40" y2="334.40" stroke="#111" stroke-width="1.45"/>
<line x1="45.80" y1="502.20" x2="173.00" y2="502.20" stroke="#111" stroke-width="1.45"/>
<line x1="172.40" y1="333.40" x2="172.40" y2="385.00" stroke="#111" stroke-width="1.45"/>
<line x1="172.40" y1="394.50" x2="172.40" y2="445.00" stroke="#111" stroke-width="1.45"/>
<line x1="172.40" y1="454.50" x2="172.40" y2="502.90" stroke="#111" stroke-width="1.45"/>
<line x1="169.10" y1="382.70" x2="175.70" y2="388.50" stroke="#111" stroke-width="1.45"/>
<line x1="169.10" y1="391.20" x2="175.70" y2="396.50" stroke="#111" stroke-width="1.45"/>
<line x1="169.10" y1="442.70" x2="175.70" y2="448.50" stroke="#111" stroke-width="1.45"/>
<line x1="169.10" y1="451.20" x2="175.70" y2="456.50" stroke="#111" stroke-width="1.45"/>
<line x1="172.40" y1="334.00" x2="176.20" y2="334.00" stroke="#111" stroke-width="1.45"/>
<line x1="172.40" y1="368.40" x2="176.20" y2="368.40" stroke="#111" stroke-width="1.45"/>
<line x1="172.40" y1="395.30" x2="176.20" y2="395.30" stroke="#111" stroke-width="1.45"/>
<line x1="172.40" y1="428.50" x2="176.20" y2="428.50" stroke="#111" stroke-width="1.45"/>
<line x1="172.40" y1="455.70" x2="176.20" y2="455.70" stroke="#111" stroke-width="1.45"/>
<line x1="172.40" y1="479.00" x2="176.20" y2="479.00" stroke="#111" stroke-width="1.45"/>
<line x1="172.40" y1="502.20" x2="176.20" y2="502.20" stroke="#111" stroke-width="1.45"/>
<line x1="66.30" y1="502.20" x2="66.30" y2="507.20" stroke="#111" stroke-width="1.45"/>
<line x1="111.60" y1="502.20" x2="111.60" y2="507.20" stroke="#111" stroke-width="1.45"/>
<line x1="134.30" y1="502.20" x2="134.30" y2="507.20" stroke="#111" stroke-width="1.45"/>
<line x1="157.20" y1="502.20" x2="157.20" y2="507.20" stroke="#111" stroke-width="1.45"/>
<line x1="253.00" y1="331.00" x2="253.00" y2="504.25" stroke="#111" stroke-width="1.45"/>
<line x1="247.70" y1="503.60" x2="253.00" y2="503.60" stroke="#111" stroke-width="1.45"/>
<line x1="247.70" y1="446.23" x2="253.00" y2="446.23" stroke="#111" stroke-width="1.45"/>
<line x1="247.70" y1="388.86" x2="253.00" y2="388.86" stroke="#111" stroke-width="1.45"/>
<line x1="247.70" y1="331.49" x2="253.00" y2="331.49" stroke="#111" stroke-width="1.45"/>
<line x1="247.70" y1="503.60" x2="327.50" y2="503.60" stroke="#111" stroke-width="1.45"/>
<line x1="275.60" y1="503.60" x2="275.60" y2="508.30" stroke="#111" stroke-width="1.45"/>
<line x1="303.80" y1="503.60" x2="303.80" y2="508.30" stroke="#111" stroke-width="1.45"/>
<line x1="406.50" y1="331.80" x2="406.50" y2="504.65" stroke="#111" stroke-width="1.45"/>
<line x1="401.40" y1="504.00" x2="406.50" y2="504.00" stroke="#111" stroke-width="1.45"/>
<line x1="401.40" y1="461.07" x2="406.50" y2="461.07" stroke="#111" stroke-width="1.45"/>
<line x1="401.40" y1="418.15" x2="406.50" y2="418.15" stroke="#111" stroke-width="1.45"/>
<line x1="401.40" y1="375.23" x2="406.50" y2="375.23" stroke="#111" stroke-width="1.45"/>
<line x1="401.40" y1="332.30" x2="406.50" y2="332.30" stroke="#111" stroke-width="1.45"/>
<line x1="401.40" y1="504.00" x2="480.80" y2="504.00" stroke="#111" stroke-width="1.45"/>
<line x1="429.00" y1="504.00" x2="429.00" y2="508.80" stroke="#111" stroke-width="1.45"/>
<line x1="457.40" y1="504.00" x2="457.40" y2="508.80" stroke="#111" stroke-width="1.45"/>
</svg>
</body></html>
